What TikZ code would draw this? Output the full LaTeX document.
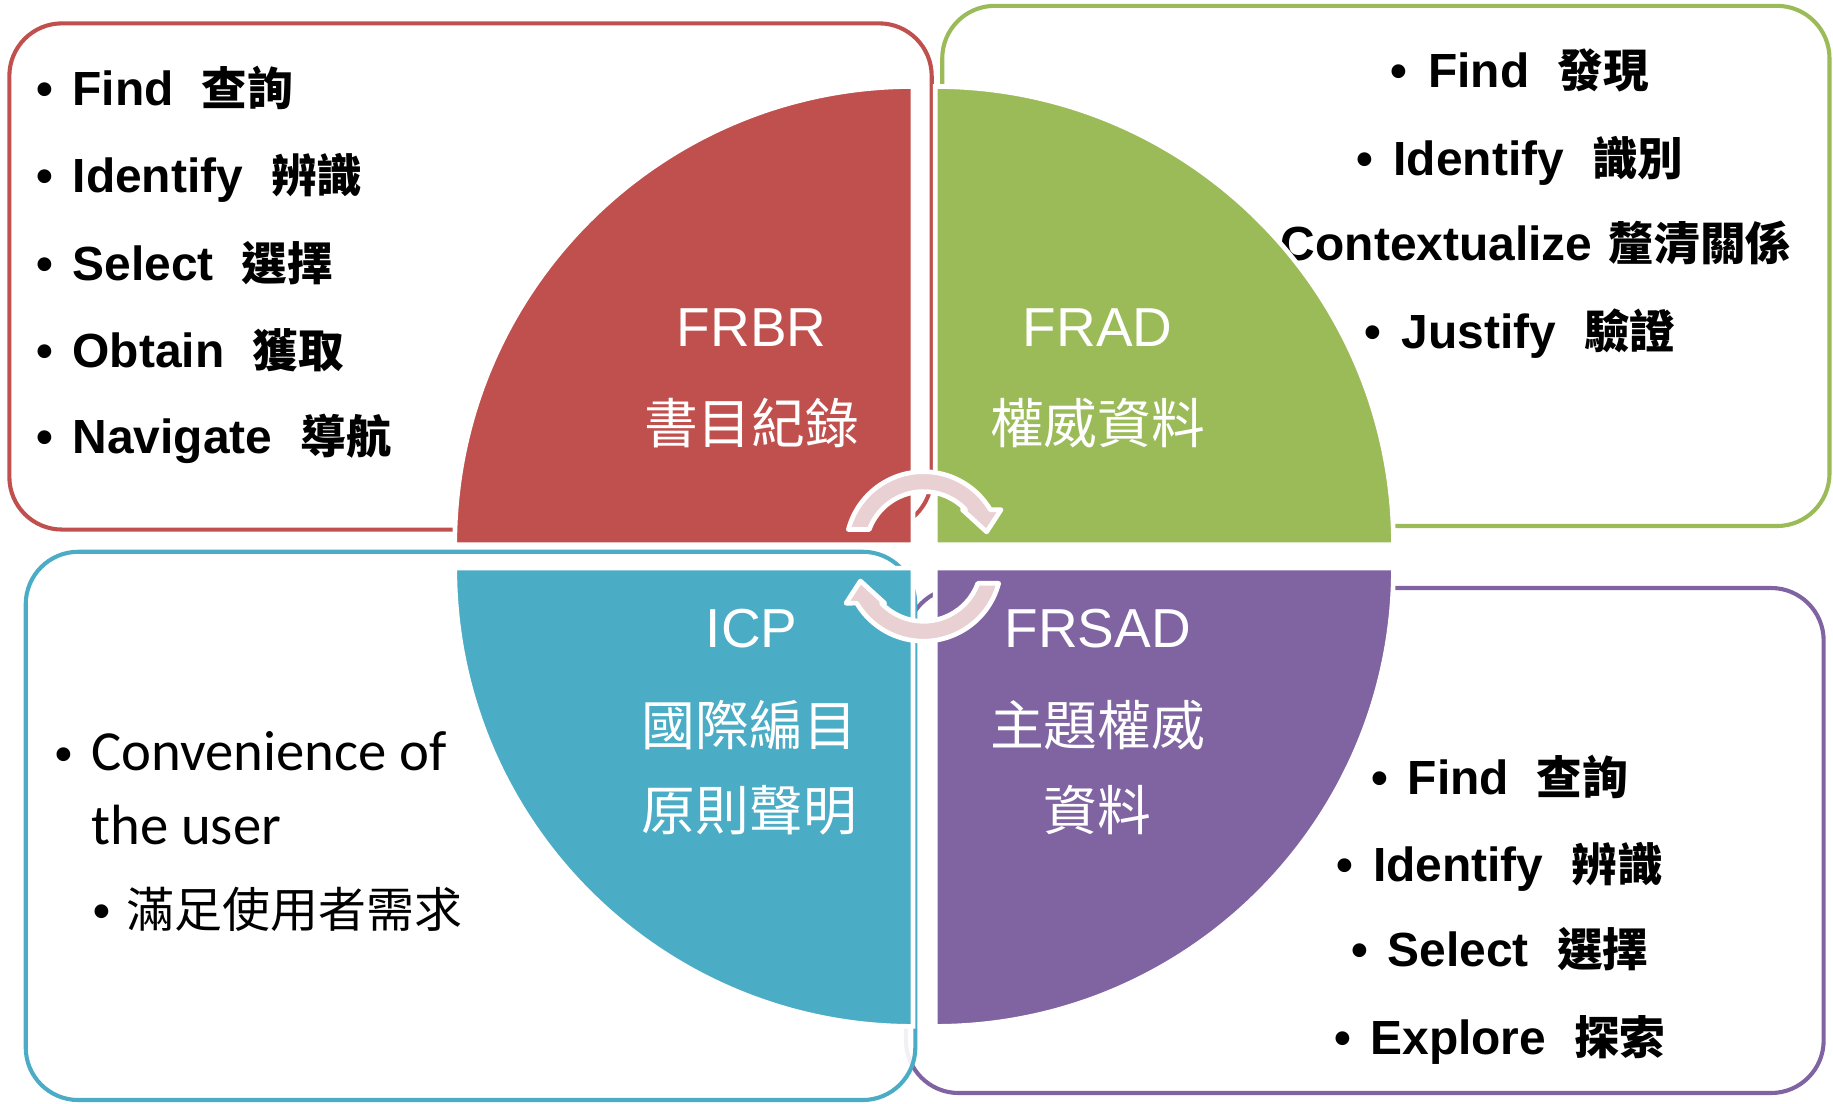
\documentclass[tikz,border=0pt]{standalone}
\usepackage{fontspec}
\setmainfont{Liberation Sans}
\newfontfamily\cjk{Noto Sans CJK TC}
\newfontfamily\calfont{Carlito}
\definecolor{qred}{HTML}{C0504D}
\definecolor{qgreen}{HTML}{9BBB59}
\definecolor{qblue}{HTML}{4BACC6}
\definecolor{qpurple}{HTML}{8064A2}
\definecolor{arrowpink}{RGB}{232,208,211}
\newcommand\cjkb[1]{{\cjk\bfseries\fontsize{39}{45}\selectfont #1}}
\newcommand\mybul[1]{\makebox[#1][l]{\textbullet}}
\newcommand\arbul[1]{\makebox[#1][l]{\rmfamily\bfseries\fontsize{41}{45}\selectfont\textbullet}}
\begin{document}
\begin{tikzpicture}[x=1pt,y=1pt,
  box/.style={line width=3.5pt, rounded corners=45pt, fill=white},
  quad/.style={draw=white, line width=4pt},
  item/.style={inner sep=0pt, font=\fontsize{41}{45}\selectfont\bfseries},
  calitem/.style={inner sep=0pt, anchor=base west, font=\calfont\fontsize{48.5}{52}\selectfont},
  lbl/.style={inner sep=0pt, anchor=base, text=white, font=\fontsize{47}{50}\selectfont},
  clbl/.style={inner sep=0pt, text=white, font=\cjk\fontsize{46}{50}\selectfont},
  cyc/.style={fill=arrowpink, draw=white, line width=4pt, line join=round}
]
\useasboundingbox (0,0) rectangle (1568,944);

% boxes
\draw[box, draw=qred] (8,491) rectangle (797,924);
\draw[box, draw=qgreen] (806,494) rectangle (1565,939);
\draw[box, draw=qpurple] (775,9) rectangle (1560,441);
\draw[box, draw=qblue, fill opacity=0.9] (22,3) rectangle (783,472);

% red box text
\node[item, anchor=base west] (r1) at (31,854) {\mybul{31pt}Find\hspace{24pt}\cjkb{查詢}};
\node[item, anchor=base west] (r2) at (31,779) {\mybul{31pt}Identify\hspace{24pt}\cjkb{辨識}};
\node[item, anchor=base west] (r3) at (31,704) {\mybul{31pt}Select\hspace{24pt}\cjkb{選擇}};
\node[item, anchor=base west] (r4) at (31,630) {\mybul{31pt}Obtain\hspace{24pt}\cjkb{獲取}};
\node[item, anchor=base west] (r5) at (31,556) {\mybul{31pt}Navigate\hspace{24pt}\cjkb{導航}};

% green box text
\node[item, anchor=base] (g1) at (1300,869) {\mybul{32pt}Find\hspace{24pt}\cjkb{發現}};
\node[item, anchor=base] (g2) at (1300,794) {\mybul{32pt}Identify\hspace{24pt}\cjkb{識別}};
\node[item, anchor=base] (g3) at (1298,721) {\mybul{32pt}Contextualize\hspace{14pt}\cjkb{釐清關係}};
\node[item, anchor=base] (g4) at (1300,646) {\mybul{32pt}Justify\hspace{24pt}\cjkb{驗證}};

% purple box text
\node[item, anchor=base] (p1) at (1283,264) {\mybul{31pt}Find\hspace{24pt}\cjkb{查詢}};
\node[item, anchor=base] (p2) at (1283,190) {\mybul{31pt}Identify\hspace{24pt}\cjkb{辨識}};
\node[item, anchor=base] (p3) at (1283,117) {\mybul{31pt}Select\hspace{24pt}\cjkb{選擇}};
\node[item, anchor=base] (p4) at (1283,42) {\mybul{31pt}Explore\hspace{24pt}\cjkb{探索}};

% blue box text
\node[calitem] (b1) at (47,285) {\arbul{31pt}Convenience of};
\node[calitem] (b2) at (78,222) {the user};
\node[calitem] (b3) at (80,151) {\arbul{28pt}{\cjk\fontsize{41}{45}\selectfont 滿足使用者需求}};

% quadrants
\path[quad, fill=qred] (781,478) -- (781,870) arc[start angle=90, end angle=180, radius=392] -- cycle;
\path[quad, fill=qgreen] (800,478) -- (1192,478) arc[start angle=0, end angle=90, radius=392] -- cycle;
\path[quad, fill=qblue] (781,458) -- (389,458) arc[start angle=180, end angle=270, radius=392] -- cycle;
\path[quad, fill=qpurple] (800,458) -- (800,66) arc[start angle=270, end angle=360, radius=392] -- cycle;

% quadrant labels
\node[lbl] (frbr) at (643,648) {FRBR};
\node[clbl] (frbrz) at (643,582) {書目紀錄};
\node[lbl] (frad) at (939,648) {FRAD};
\node[clbl] (fradz) at (939,582) {權威資料};
\node[lbl] (icp) at (643,390) {ICP};
\node[clbl] (icpz1) at (641,324) {國際編目};
\node[clbl] (icpz2) at (641,251) {原則聲明};
\node[lbl] (frsad) at (939,390) {FRSAD};
\node[clbl] (frsadz1) at (939,324) {主題權威};
\node[clbl] (frsadz2) at (939,251) {資料};

% circular arrows
\begin{scope}[shift={(790,474)}]
\path[cyc] (165.2:66.5) arc[start angle=165.2, end angle=30.7, radius=66.5]
  -- (66.3,34) -- (54,15) -- (33.2,34) -- (36,34)
  arc[start angle=43.4, end angle=159.9, radius=49.5] -- cycle;
\end{scope}
\begin{scope}[shift={(790,462)}, rotate=180]
\path[cyc] (165.2:66.5) arc[start angle=165.2, end angle=30.7, radius=66.5]
  -- (66.3,34) -- (54,15) -- (33.2,34) -- (36,34)
  arc[start angle=43.4, end angle=159.9, radius=49.5] -- cycle;
\end{scope}
\end{tikzpicture}
\end{document}
